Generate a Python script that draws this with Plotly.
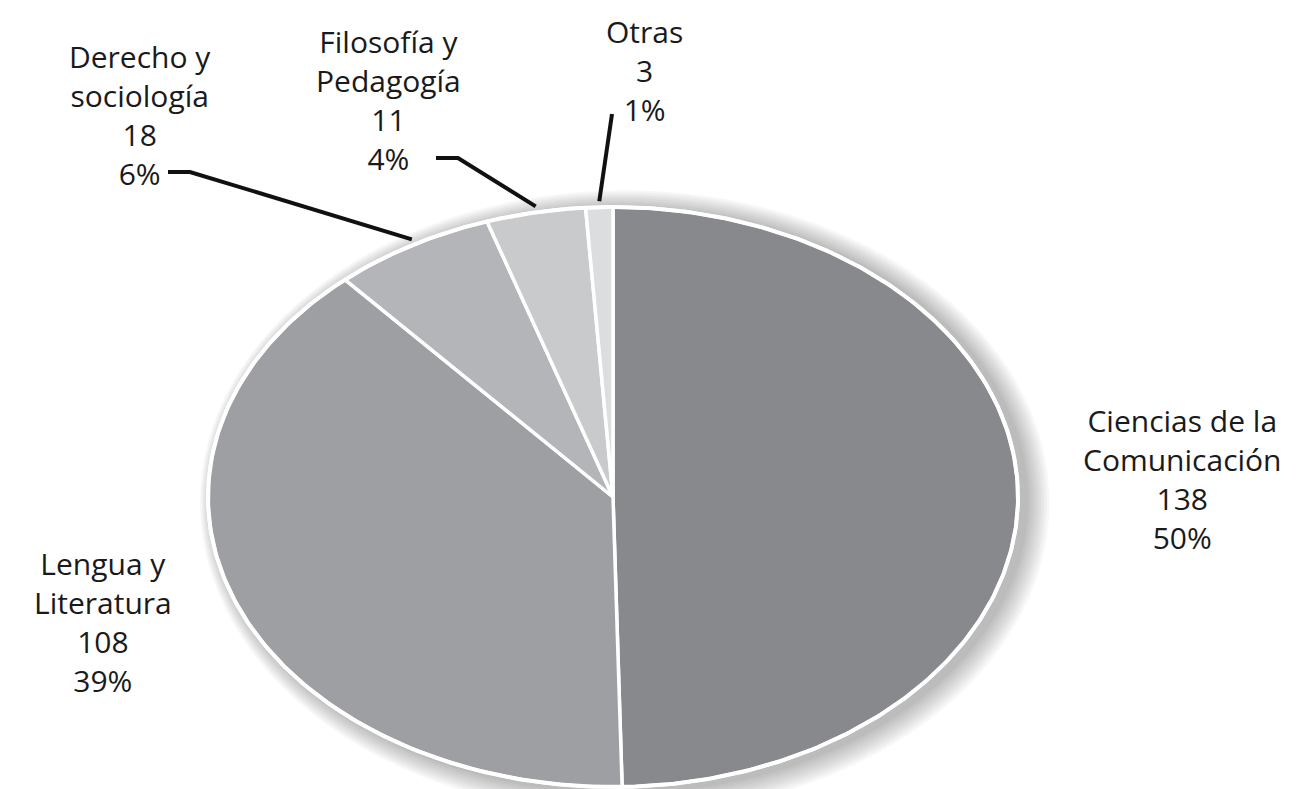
import numpy as np
import plotly.graph_objects as go

category_lines = [["Ciencias de la", "Comunicación"], ["Lengua y", "Literatura"],
                  ["Derecho y", "sociología"], ["Filosofía y", "Pedagogía"], ["Otras"]]
values = [138, 108, 18, 11, 3]
percent_labels = ["50%", "39%", "6%", "4%", "1%"]
colors = ["#88898D", "#9E9FA3", "#B4B5B8", "#C9CACC", "#DCDDDF"]

W, H = 1304, 789
OFF = 8  # body margin of the html page
CX, CY = 613, 497
RX, RY = 405, 290

total = float(sum(values))
fracs = np.array(values) / total
starts = np.concatenate([[0], np.cumsum(fracs)[:-1]])

def pt(frac, r=1.0):
    a = 2 * np.pi * frac
    return CX + r * RX * np.sin(a), CY - r * RY * np.cos(a)

fig = go.Figure()

for i, (s, f) in enumerate(zip(starts, fracs)):
    t = np.linspace(s, s + f, max(int(f * 400), 8))
    xs, ys = pt(t)
    xs = np.concatenate([[CX], xs, [CX]])
    ys = np.concatenate([[CY], ys, [CY]])
    name = " ".join(category_lines[i])
    fig.add_trace(go.Scatter(x=xs, y=ys, fill="toself", fillcolor=colors[i], mode="lines",
                             line=dict(color="white", width=3.5), hoverinfo="text",
                             text=f"{name}: {values[i]} ({percent_labels[i]})",
                             showlegend=False))

t = np.linspace(0, 1, 600)
xs, ys = pt(t)
fig.add_trace(go.Scatter(x=xs, y=ys, mode="lines", line=dict(color="white", width=4),
                         hoverinfo="skip", showlegend=False))

# label layout: block center
label_pos = [(1182, 479), (103, 622), (140, 115), (388, 100), (644, 70)]
font = dict(family="Open Sans", size=30, color="#1a1a1a")
for i in range(len(values)):
    lines = category_lines[i] + [str(values[i]), percent_labels[i]]
    fig.add_annotation(x=label_pos[i][0], y=label_pos[i][1], xref="x", yref="y",
                       text="<br>".join(lines), showarrow=False, font=font, align="center",
                       xanchor="center", yanchor="middle")

leader = {2: [(168, 172), (190, 172)], 3: [(436, 158), (458, 158)], 4: [(612, 114)]}
for i, pts in leader.items():
    ex, ey = pt(starts[i] + fracs[i] / 2, 1.0)
    lx = [p[0] for p in pts] + [ex]
    ly = [p[1] for p in pts] + [ey - 6]
    fig.add_trace(go.Scatter(x=lx, y=ly, mode="lines", line=dict(color="#111111", width=4),
                             hoverinfo="skip", showlegend=False))

shapes = []
for k in range(9):
    g = 2.6 * (k + 1)
    shapes.append(dict(type="circle", xref="x", yref="y", layer="below",
                       x0=CX - RX - g * 0.6 + 6, x1=CX + RX + g + 8,
                       y0=CY - RY - g * 0.8 + 2, y1=CY + RY + g + 4,
                       fillcolor="rgba(0,0,0,0.03)", line=dict(width=0)))

fig.update_layout(width=W - OFF, height=H - OFF, margin=dict(l=0, r=0, t=0, b=0),
                  paper_bgcolor="white", plot_bgcolor="white", shapes=shapes,
                  xaxis=dict(range=[OFF, W], visible=False, fixedrange=True),
                  yaxis=dict(range=[H, OFF], visible=False, fixedrange=True))
fig.write_html("out.html")
